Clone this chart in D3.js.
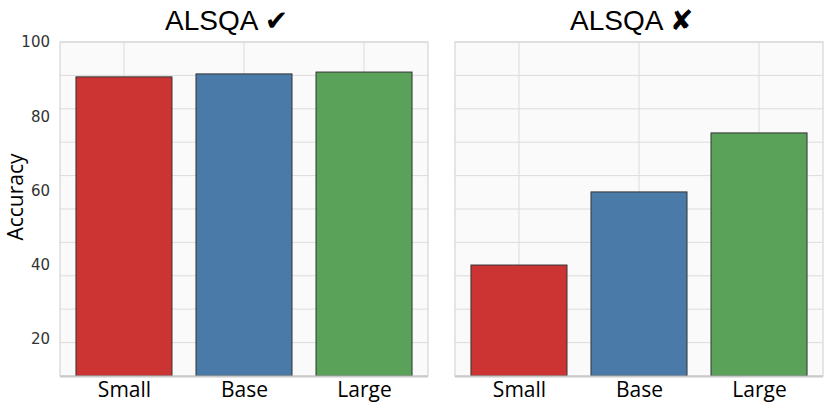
<!DOCTYPE html>
<html>
<head>
<meta charset="utf-8">
<script src="https://cdn.jsdelivr.net/npm/d3@7"></script>
<style>
  body { margin: 0; background: #fff; }
  svg { display: block; }
</style>
</head>
<body>
<svg width="830" height="408"></svg>
<script>
const categories = ['Small', 'Base', 'Large'];
const leftValues = [90.6, 91.4, 91.9];
const rightValues = [39.9, 59.6, 75.5];
const titleText = ['ALSQA', 'ALSQA'];
const titleMarks = ['\u2714', '\u2718'];
const yTicks = [20, 40, 60, 80, 100];
const gridTicks = [0, 10, 20, 30, 40, 50, 60, 70, 80, 90, 100];
const colors = ['#cc3434', '#4a7ba8', '#5aa25a'];

const svg = d3.select('svg');
const plotTop = 42, plotBottom = 376;

const panels = [
    { x0: 60, x1: 428, values: leftValues, title: 0, titleX: 165, showY: true },
    { x0: 455, x1: 823, values: rightValues, title: 1, titleX: 570, showY: false }
];

// tick labels and bars use 10..100, the grid is drawn every 10 over 0..100
let yScale = d3.scaleLinear().domain([10, 100]).range([plotBottom, plotTop]);
let gridScale = d3.scaleLinear().domain([0, 100]).range([plotBottom, plotTop]);

panels.forEach(p => {
    let xScale = d3.scaleLinear().domain([-0.533, 2.533]).range([p.x0, p.x1]);
    let g = svg.append('g');

    g.append('rect')
        .attr('x', p.x0)
        .attr('y', plotTop)
        .attr('width', p.x1 - p.x0)
        .attr('height', plotBottom - plotTop)
        .style('fill', '#fafafa');

    // horizontal grid
    g.selectAll('line.hgrid')
        .data(gridTicks)
        .enter()
        .append('line')
        .attr('x1', p.x0)
        .attr('x2', p.x1)
        .attr('y1', d => gridScale(d))
        .attr('y2', d => gridScale(d))
        .style('stroke', '#dcdcdc')
        .style('stroke-width', 1);

    // vertical grid
    g.selectAll('line.vgrid')
        .data(categories)
        .enter()
        .append('line')
        .attr('x1', (d, i) => xScale(i))
        .attr('x2', (d, i) => xScale(i))
        .attr('y1', plotTop)
        .attr('y2', plotBottom)
        .style('stroke', '#dcdcdc')
        .style('stroke-width', 1);

    g.append('rect')
        .attr('x', p.x0)
        .attr('y', plotTop)
        .attr('width', p.x1 - p.x0)
        .attr('height', plotBottom - plotTop)
        .style('fill', 'none')
        .style('stroke', '#d6d6d6')
        .style('stroke-width', 1.2);

    g.selectAll('rect.bar')
        .data(p.values)
        .enter()
        .append('rect')
        .attr('class', 'bar')
        .attr('x', (d, i) => xScale(i - 0.4))
        .attr('y', d => yScale(d))
        .attr('width', xScale(0.8) - xScale(0))
        .attr('height', d => plotBottom - yScale(d))
        .style('fill', (d, i) => colors[i])
        .style('stroke', '#333')
        .style('stroke-width', 1);

    // bottom spine
    g.append('line')
        .attr('x1', p.x0)
        .attr('x2', p.x1)
        .attr('y1', plotBottom + 0.5)
        .attr('y2', plotBottom + 0.5)
        .style('stroke', '#c8c8c8')
        .style('stroke-width', 2);

    let xAxis = d3.axisBottom(xScale)
                    .tickValues([0, 1, 2])
                    .tickFormat(i => categories[i])
                    .tickSize(0)
                    .tickPadding(6);
    let xg = g.append('g')
        .attr('transform', `translate(0, ${plotBottom})`)
        .call(xAxis);
    xg.select('.domain').remove();
    xg.selectAll('text')
        .style('font-family', 'Open Sans, sans-serif')
        .style('font-size', '21px')
        .style('fill', '#000');

    if (p.showY) {
        let yAxis = d3.axisLeft(yScale)
                        .tickValues(yTicks)
                        .tickSize(0)
                        .tickPadding(10);
        let yg = g.append('g')
            .attr('transform', `translate(${p.x0}, 0)`)
            .call(yAxis);
        yg.select('.domain').remove();
        yg.selectAll('text')
            .style('font-family', 'DejaVu Sans, sans-serif')
            .style('font-size', '15px')
            .style('fill', '#333');
    }

    let t = g.append('text')
        .attr('x', p.titleX)
        .attr('y', 30)
        .style('font-family', 'Liberation Sans, Arial, sans-serif')
        .style('font-size', '28px')
        .style('fill', '#000');
    t.append('tspan').text(titleText[p.title] + ' ');
    t.append('tspan')
        .style('font-family', 'DejaVu Sans, sans-serif')
        .style('font-size', '28px')
        .text(titleMarks[p.title]);
});

//y-axis title
svg.append('text')
    .attr('transform', 'rotate(-90)')
    .attr('x', -197)
    .attr('y', 23)
    .style('text-anchor', 'middle')
    .style('font-family', 'Open Sans, sans-serif')
    .style('font-size', '21px')
    .style('fill', '#000')
    .text('Accuracy');
</script>
</body>
</html>
